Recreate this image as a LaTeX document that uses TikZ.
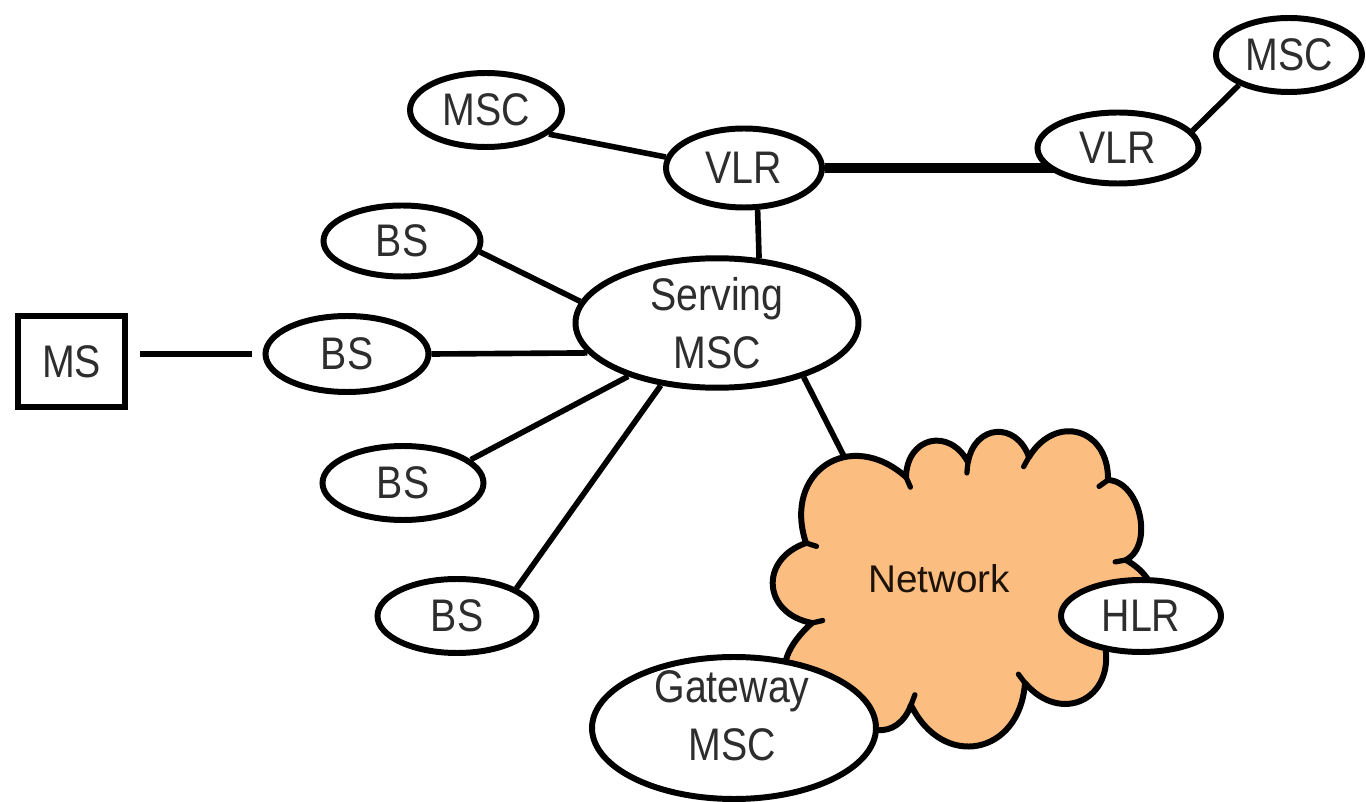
\documentclass[tikz,border=0pt]{standalone}
\usepackage{fontspec}
\setmainfont{Liberation Sans}[FakeStretch=0.86]
\newfontfamily\netfont{Liberation Sans}
\usetikzlibrary{shapes.geometric,calc,backgrounds}
\definecolor{cloudfill}{RGB}{252,190,128}
\definecolor{labelgray}{RGB}{45,45,45}

\begin{document}
\begin{tikzpicture}[x=0.1mm,y=-0.1mm,
  unit/.style={ellipse, draw=black, line width=1.7pt, fill=white, inner sep=0pt,
    font=\fontsize{13}{16.5}\selectfont, text=labelgray, align=center},
  link/.style={line width=1.6pt},
  trunk/.style={line width=2.6pt},
  puff/.style={bend left=75, looseness=1.6},
  tick/.style={line width=1.5pt, line cap=round}]
\useasboundingbox (0,0) rectangle (1366,802);

% network elements
\node[unit, minimum width=15.2mm, minimum height=7.4mm] (msc1) at (486,110) {MSC};
\node[unit, minimum width=15.6mm, minimum height=7.9mm] (vlr1) at (744,168) {VLR};
\node[unit, minimum width=16.1mm, minimum height=7.1mm] (vlr2) at (1118,148) {VLR};
\node[unit, minimum width=14.6mm, minimum height=7.4mm] (msc2) at (1289,55) {MSC};
\node[unit, minimum width=15.7mm, minimum height=7.1mm] (bs1) at (402,241) {BS};
\node[unit, minimum width=16.3mm, minimum height=7.6mm] (bs2) at (347,354) {BS};
\node[unit, minimum width=16.1mm, minimum height=7.4mm] (bs3) at (403,483) {BS};
\node[unit, minimum width=15.9mm, minimum height=7.4mm] (bs4) at (457,616) {BS};
\node[unit, minimum width=28.3mm, minimum height=12.7mm] (serving) at (717,323) {Serving\\MSC};
\node[draw=black, line width=1.7pt, fill=white, inner sep=0pt,
      minimum width=10.7mm, minimum height=9.1mm,
      font=\fontsize{13}{16.5}\selectfont, text=labelgray] (ms) at (71.5,361.5) {MS};

% links
\draw[link] (msc1.-21) -- (vlr1.172);
\begin{pgfonlayer}{background}
  % level trunk, its far end hidden under the filled VLR
  \draw[trunk] (vlr1.east) -- (vlr1.east -| vlr2.center);
\end{pgfonlayer}
\draw[link] (vlr2.13.5) -- (msc2.211.5);
\draw[link] (vlr1.-72) -- (serving.57);
\draw[link] (bs1.-8) -- (serving.171);
\draw[link] (bs2.east) -- (serving.193);
\draw[link] (bs3.19) -- (serving.211);
\draw[link] (bs4.25) -- (serving.228);
\draw[link, shorten <=1.2mm, shorten >=1.1mm] (bs2.west -| ms.east) -- (bs2.west);

\coordinate (netjoin) at (850,468);
\draw[link] (serving.-32) -- (netjoin);

% network cloud
\coordinate (ctr) at (955,590);
\coordinate (cl) at (806,543);
\coordinate (ca) at (906,477);
\coordinate (cb) at (968,462);
\coordinate (cc) at (1029,457);
\coordinate (cd) at (1108,480);
\coordinate (ce) at (1126,560);
\coordinate (cf) at (1105,645);
\coordinate (cg) at (1025,683);
\coordinate (ch) at (911,705);
\coordinate (ci) at (850,700);
\coordinate (ck) at (812,623);
\filldraw[fill=cloudfill, draw=black, line width=1.7pt, line join=round]
  (cl) to[puff] (ca) to[puff] (cb) to[puff] (cc) to[puff] (cd)
  to[puff, looseness=1.0] (ce) to[puff] (cf) to[puff] (cg) to[puff] (ch)
  to[puff] (ci) to[puff, looseness=2] (ck) to[puff] (cl) -- cycle;
\foreach \c in {ca,cb,cc,cd,ce,cg,ch,ck,cl}
  \draw[tick] (\c) -- ($(\c)!1.1mm!(ctr)$);
\node[font=\netfont\fontsize{11}{13}\selectfont, text=black!85!brown] (net) at (939,579) {Network};

\node[unit, minimum width=16mm, minimum height=7.2mm] (hlr) at (1141,616) {HLR};
\node[unit, minimum width=28.4mm, minimum height=14.2mm] (gw) at (734,728) {};
\node[font=\fontsize{13}{16.5}\selectfont, text=labelgray, align=center, inner sep=0pt]
  (gwtext) at (732,716) {Gateway\\MSC};
\end{tikzpicture}
\end{document}
